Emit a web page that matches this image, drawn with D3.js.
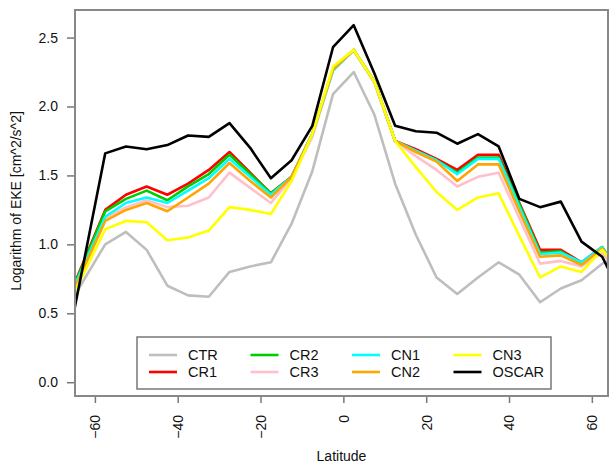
<html lang="en">
<head>
  <meta charset="UTF-8"/>
  <title>Logarithm of EKE by latitude</title>
  <script src="https://d3js.org/d3.v7.min.js"></script>
  <style>
    body { margin: 0; background: #ffffff; }
    text { font-family: "Liberation Sans", Arial, Helvetica, sans-serif; fill: #111; }
  </style>
</head>
<body>
<svg id="chart"></svg>
<script>
// latitude of each value (5 degree bands)
var lat = [-67.5, -62.5, -57.5, -52.5, -47.5, -42.5, -37.5, -32.5, -27.5, -22.5, -17.5, -12.5, -7.5, -2.5,
           2.5, 7.5, 12.5, 17.5, 22.5, 27.5, 32.5, 37.5, 42.5, 47.5, 52.5, 57.5, 62.5, 67.5];

var ctr   = [0.49, 0.75, 1.00, 1.09, 0.96, 0.70, 0.63, 0.62, 0.80, 0.84, 0.87, 1.15, 1.53, 2.09,
             2.25, 1.94, 1.44, 1.07, 0.76, 0.64, 0.76, 0.87, 0.78, 0.58, 0.68, 0.74, 0.86, 0.93];
var cr1   = [0.53, 0.89, 1.25, 1.36, 1.42, 1.36, 1.44, 1.54, 1.67, 1.52, 1.37, 1.49, 1.80, 2.27,
             2.41, 2.18, 1.75, 1.69, 1.62, 1.54, 1.65, 1.65, 1.30, 0.96, 0.96, 0.87, 0.98, 0.75];
var cr2   = [0.52, 0.88, 1.24, 1.33, 1.39, 1.32, 1.42, 1.51, 1.65, 1.51, 1.37, 1.49, 1.80, 2.27,
             2.41, 2.18, 1.75, 1.68, 1.61, 1.52, 1.63, 1.63, 1.29, 0.94, 0.95, 0.86, 0.98, 0.75];
var cr3   = [0.51, 0.85, 1.19, 1.27, 1.32, 1.27, 1.28, 1.34, 1.52, 1.41, 1.30, 1.48, 1.78, 2.26,
             2.41, 2.17, 1.75, 1.64, 1.54, 1.42, 1.49, 1.52, 1.19, 0.86, 0.88, 0.84, 0.94, 0.74];
var cn1   = [0.52, 0.86, 1.20, 1.30, 1.34, 1.30, 1.39, 1.48, 1.62, 1.49, 1.36, 1.49, 1.80, 2.26,
             2.41, 2.18, 1.75, 1.68, 1.61, 1.51, 1.62, 1.62, 1.27, 0.93, 0.94, 0.87, 0.98, 0.75];
var cn2   = [0.50, 0.84, 1.17, 1.25, 1.30, 1.24, 1.34, 1.44, 1.59, 1.46, 1.34, 1.49, 1.80, 2.27,
             2.41, 2.18, 1.75, 1.67, 1.60, 1.46, 1.58, 1.58, 1.24, 0.91, 0.92, 0.85, 0.97, 0.75];
var cn3   = [0.50, 0.80, 1.11, 1.17, 1.16, 1.03, 1.05, 1.10, 1.27, 1.25, 1.22, 1.46, 1.80, 2.29,
             2.41, 2.18, 1.75, 1.56, 1.38, 1.25, 1.34, 1.37, 1.06, 0.76, 0.84, 0.80, 0.96, 0.78];
var oscar = [0.14, 0.90, 1.66, 1.71, 1.69, 1.72, 1.79, 1.78, 1.88, 1.70, 1.48, 1.61, 1.86, 2.43,
             2.59, 2.24, 1.86, 1.82, 1.81, 1.73, 1.80, 1.71, 1.33, 1.27, 1.31, 1.02, 0.91, 0.61];

var names  = ["CTR", "CR1", "CR2", "CR3", "CN1", "CN2", "CN3", "OSCAR"];
var colors = ["#bebebe", "#ff0000", "#00cd00", "#ffc0cb", "#00ffff", "#ffa500", "#ffff00", "#000000"];
var yTicks = [0, 0.5, 1, 1.5, 2, 2.5];
var xTicks = [-60, -40, -20, 0, 20, 40, 60];

function draw() {
    var series = [ctr, cr1, cr2, cr3, cn1, cn2, cn3, oscar].map(function(vals, i) {
        return { name: names[i], color: colors[i], values: vals };
    });

    var width = 609, height = 463;
    var plotLeft = 75, plotRight = 608, plotTop = 10, plotBottom = 396;

    var svg = d3.select("#chart").attr("width", width).attr("height", height);

    var x = d3.scaleLinear().domain([-64.8, 63.9]).range([plotLeft, plotRight]);
    var y = d3.scaleLinear().domain([-0.1, 2.7]).range([plotBottom, plotTop]);

    svg.append("clipPath").attr("id", "plotclip")
        .append("rect")
        .attr("x", plotLeft).attr("y", plotTop)
        .attr("width", plotRight - plotLeft).attr("height", plotBottom - plotTop);

    // lines
    var line = d3.line()
        .x(function(d, i) { return x(lat[i]); })
        .y(function(d) { return y(d); });

    svg.append("g").attr("clip-path", "url(#plotclip)")
        .selectAll("path")
        .data(series)
        .enter().append("path")
        .attr("d", function(s) { return line(s.values); })
        .attr("fill", "none")
        .attr("stroke", function(s) { return s.color; })
        .attr("stroke-width", 2.6)
        .attr("stroke-linejoin", "round");

    // axes
    var yAxis = svg.append("g")
        .attr("transform", "translate(" + plotLeft + ",0)")
        .call(d3.axisLeft(y).tickValues(yTicks).tickFormat(d3.format(".1f")).tickSize(8).tickPadding(9));

    var xAxis = svg.append("g")
        .attr("transform", "translate(0," + plotBottom + ")")
        .call(d3.axisBottom(x).tickValues(xTicks).tickFormat(d3.format("d")).tickSize(7));

    [yAxis, xAxis].forEach(function(ax) {
        ax.select(".domain").remove();
        ax.selectAll(".tick line").attr("stroke", "#777").attr("stroke-width", 1.5);
        ax.selectAll("text").style("font-size", "14px").attr("fill", "#111");
    });

    xAxis.selectAll("text")
        .attr("transform", "rotate(-90)")
        .attr("x", -19)
        .attr("y", 0)
        .attr("dy", "0.35em")
        .style("text-anchor", "end");

    // frame
    svg.append("rect")
        .attr("x", plotLeft).attr("y", plotTop)
        .attr("width", plotRight - plotLeft).attr("height", plotBottom - plotTop)
        .attr("fill", "none")
        .attr("stroke", "#888")
        .attr("stroke-width", 2);

    // titles
    svg.append("text")
        .attr("transform", "translate(21,201) rotate(-90)")
        .attr("text-anchor", "middle")
        .style("font-size", "14px")
        .text("Logarithm of EKE [cm^2/s^2]");

    svg.append("text")
        .attr("x", (plotLeft + plotRight) / 2)
        .attr("y", 461)
        .attr("text-anchor", "middle")
        .style("font-size", "14px")
        .text("Latitude");

    // legend, filled column by column like R's legend(ncol=4)
    var legend = svg.append("g").attr("transform", "translate(137,337)");
    legend.append("rect")
        .attr("width", 414).attr("height", 52)
        .attr("fill", "#fff")
        .attr("stroke", "#777")
        .attr("stroke-width", 1.5);

    var items = legend.selectAll("g.item")
        .data(series)
        .enter().append("g")
        .attr("class", "item")
        .attr("transform", function(d, i) {
            return "translate(" + (12 + Math.floor(i / 2) * 101.5) + "," + (18 + (i % 2) * 17) + ")";
        });

    items.append("line")
        .attr("x1", 0).attr("x2", 28)
        .attr("stroke", function(d) { return d.color; })
        .attr("stroke-width", 2.6);

    items.append("text")
        .attr("x", 39)
        .attr("dy", "0.36em")
        .style("font-size", "14.5px")
        .text(function(d) { return d.name; });
}

draw();
</script>
</body>
</html>
